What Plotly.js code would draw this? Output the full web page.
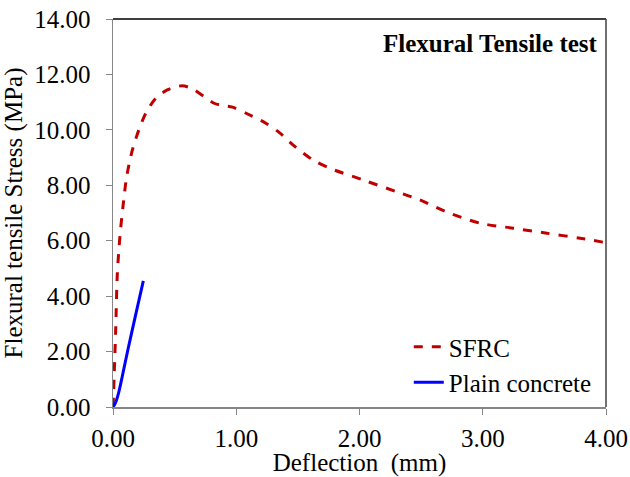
<!DOCTYPE html>
<html>
<head>
<meta charset="utf-8">
<script src="https://cdn.plot.ly/plotly-3.0.1.min.js"></script>
<style>body{margin:0;padding:0;background:#fff;} #chart{width:630px;height:477px;}</style>
</head>
<body>
<div id="chart"></div>
<script>
// SFRC curve (deflection mm, stress MPa)
const sfrcX = [0, 0.004, 0.01, 0.022, 0.035, 0.057, 0.081, 0.111, 0.157, 0.21, 0.266, 0.347, 0.44, 0.56, 0.645, 0.73, 0.82, 0.89, 0.97, 1.08, 1.24, 1.35, 1.47, 1.62, 1.756, 2.03, 2.30, 2.49, 2.70, 2.98, 3.25, 3.52, 3.79, 4.0];
const sfrcY = [0, 0.4, 1.2, 2.8, 4.8, 6.2, 7.23, 8.31, 9.27, 10.0, 10.6, 11.14, 11.44, 11.59, 11.48, 11.23, 10.96, 10.88, 10.82, 10.6, 10.24, 9.9, 9.42, 8.92, 8.62, 8.19, 7.77, 7.47, 7.05, 6.63, 6.45, 6.27, 6.09, 5.93];
// Plain concrete curve
const plainX = [0, 0.02, 0.045, 0.075, 0.12, 0.18, 0.246];
const plainY = [0, 0.15, 0.5, 1.1, 2.05, 3.25, 4.55];

const seriesNames = ['SFRC', 'Plain concrete'];
const chartTitle = 'Flexural Tensile test';
const xTitle = 'Deflection&nbsp;&nbsp;(mm)';
const yTitle = 'Flexural tensile Stress (MPa)';

const FONT = 'Liberation Serif, Times New Roman, serif';
const FS = 25;

const traces = [
  {x: sfrcX, y: sfrcY, name: seriesNames[0], type: 'scatter', mode: 'lines',
   line: {color: '#C00000', width: 3, dash: 'dash', shape: 'spline', smoothing: 0.8}},
  {x: plainX, y: plainY, name: seriesNames[1], type: 'scatter', mode: 'lines',
   line: {color: '#0000FF', width: 3, shape: 'spline', smoothing: 0.8}}
];

const layout = {
  width: 630, height: 477,
  margin: {l: 113, r: 24, t: 19, b: 70},
  paper_bgcolor: '#fff', plot_bgcolor: '#fff',
  font: {family: FONT, size: FS, color: '#000'},
  showlegend: true,
  legend: {x: 0.6, y: 0.005, xanchor: 'left', yanchor: 'bottom', bgcolor: 'rgba(0,0,0,0)',
           font: {family: FONT, size: FS, color: '#000'}, tracegroupgap: 0},
  xaxis: {range: [0, 4], dtick: 1, tick0: 0, tickformat: '.2f', showgrid: false, zeroline: false,
          showline: true, linecolor: '#868686', linewidth: 1.5, ticks: 'outside', ticklen: 6,
          tickcolor: '#868686', tickwidth: 1, ticklabelstandoff: 2,
          tickfont: {family: FONT, size: FS, color: '#000'},
          title: {text: xTitle, font: {family: FONT, size: FS}, standoff: 0}},
  yaxis: {range: [0, 14], dtick: 2, tick0: 0, tickformat: '.2f', showgrid: false, zeroline: false,
          showline: true, linecolor: '#868686', linewidth: 1.5, ticks: 'outside', ticklen: 6,
          tickcolor: '#868686', tickwidth: 1, ticklabelstandoff: 10,
          tickfont: {family: FONT, size: FS, color: '#000'},
          title: {text: yTitle, font: {family: FONT, size: FS}, standoff: 4}},
  shapes: [
    {type: 'line', xref: 'paper', yref: 'paper', x0: 0, x1: 1, y0: 1, y1: 1, line: {color: '#000', width: 1.5}},
    {type: 'line', xref: 'paper', yref: 'paper', x0: 1, x1: 1, y0: 0, y1: 1, line: {color: '#404040', width: 1.5}}
  ],
  annotations: [
    {text: '<b>' + chartTitle + '</b>', xref: 'paper', yref: 'paper', x: 1, y: 0.936,
     xanchor: 'right', yanchor: 'middle', xshift: -6, showarrow: false,
     font: {family: FONT, size: FS, color: '#000'}}
  ]
};

Plotly.newPlot('chart', traces, layout, {displayModeBar: false, staticPlot: true});
</script>
</body>
</html>
